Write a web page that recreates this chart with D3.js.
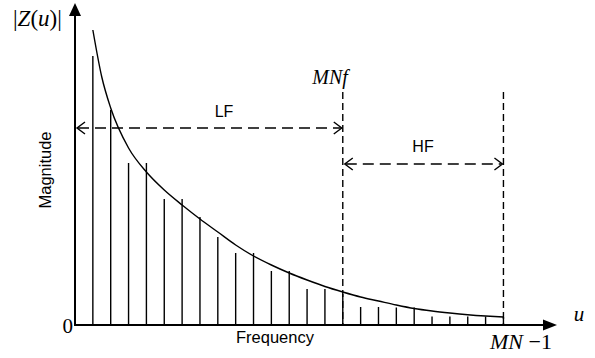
<!DOCTYPE html>
<html>
<head>
<meta charset="utf-8">
<script src="https://cdn.jsdelivr.net/npm/d3@7"></script>
<style>
  body { margin: 0; background: #fff; }
  .sans { font-family: "Liberation Sans", Arial, sans-serif; }
  .serif { font-family: "Liberation Serif", "Times New Roman", serif; }
</style>
</head>
<body>
<svg id="chart"></svg>
<script>
// frequency index of each sample bar
var barU = d3.range(1, 25)
// bar magnitudes
var barValues = [269, 215, 162, 162, 126, 126, 108, 88, 72, 72, 54, 54,
  36, 36, 31, 18, 18, 17.5, 17.5, 8.5, 8.5, 8.5, 8.5, 8]
// envelope curve
var curveU = [1, 1.5, 2, 3, 4, 5, 6, 7, 8, 9, 10, 11, 12, 13, 14, 15, 16, 17, 18, 19, 20, 21, 22, 23, 24]
var curveValues = [295, 248, 217, 177, 153, 135, 120, 106, 93, 80, 69, 60, 52, 45, 38.5, 33, 28, 24, 20, 16.5, 14, 12, 10.3, 9, 8]
var cutU = 15
var lastU = 24
var xMaxU = 27

var dimensions = {
  width: 595,
  height: 358,
  margin: { top: 25, bottom: 33, left: 75, right: 38 }
}

var svg = d3.select("#chart")
  .attr("width", dimensions.width)
  .attr("height", dimensions.height)

var xScale = d3.scaleLinear()
  .domain([0, xMaxU])
  .range([dimensions.margin.left, dimensions.width - dimensions.margin.right])

var yScale = d3.scaleLinear()
  .domain([0, 300])
  .range([dimensions.height - dimensions.margin.bottom, dimensions.margin.top])

var y0 = yScale(0)
var x0 = xScale(0)

// bars
svg.append("g")
  .selectAll("line")
  .data(barU)
  .enter().append("line")
  .attr("x1", d => xScale(d))
  .attr("x2", d => xScale(d))
  .attr("y1", y0)
  .attr("y2", (d, i) => yScale(barValues[i]))
  .attr("stroke", "#000")
  .attr("stroke-width", 1.4)

// envelope
var line = d3.line()
  .x(d => xScale(d[0]))
  .y(d => yScale(d[1]))
  .curve(d3.curveMonotoneX)

svg.append("path")
  .datum(curveU.map((u, i) => [u, curveValues[i]]))
  .attr("d", line)
  .attr("fill", "none")
  .attr("stroke", "#000")
  .attr("stroke-width", 1.4)

// axes
svg.append("line")
  .attr("x1", x0).attr("x2", x0)
  .attr("y1", y0 + 1).attr("y2", 12)
  .attr("stroke", "#000").attr("stroke-width", 2)
svg.append("path")
  .attr("d", `M${x0},3 L${x0 - 6},16 L${x0 + 6},16 Z`)
  .attr("fill", "#000")

svg.append("line")
  .attr("x1", x0 - 1).attr("x2", xScale(xMaxU) - 10)
  .attr("y1", y0).attr("y2", y0)
  .attr("stroke", "#000").attr("stroke-width", 2)
svg.append("path")
  .attr("d", `M${xScale(xMaxU)},${y0} L${xScale(xMaxU) - 14},${y0 - 5.5} L${xScale(xMaxU) - 14},${y0 + 5.5} Z`)
  .attr("fill", "#000")

// dashed cut-off lines
var dashTop = 92
svg.append("g")
  .selectAll("line")
  .data([cutU, lastU])
  .enter().append("line")
  .attr("x1", d => xScale(d))
  .attr("x2", d => xScale(d))
  .attr("y1", dashTop)
  .attr("y2", y0)
  .attr("stroke", "#000")
  .attr("stroke-width", 1.4)
  .attr("stroke-dasharray", "7,4")

function chevron(x, y, dir) {
  return `M${x - dir * 8},${y - 6} L${x},${y} L${x - dir * 8},${y + 6}`
}

function dashedArrow(xa, xb, y) {
  svg.append("line")
    .attr("x1", xa + 1).attr("x2", xb - 1)
    .attr("y1", y).attr("y2", y)
    .attr("stroke", "#000")
    .attr("stroke-width", 1.4)
    .attr("stroke-dasharray", "11,6")
  svg.append("path")
    .attr("d", chevron(xa, y, -1))
    .attr("fill", "none").attr("stroke", "#000").attr("stroke-width", 1.4)
  svg.append("path")
    .attr("d", chevron(xb, y, 1))
    .attr("fill", "none").attr("stroke", "#000").attr("stroke-width", 1.4)
}

dashedArrow(x0 + 2, xScale(cutU) - 1, 128)
dashedArrow(xScale(cutU) + 2, xScale(lastU) - 1, 164)

// labels
svg.append("text").attr("class", "sans")
  .attr("x", 224).attr("y", 117)
  .attr("text-anchor", "middle").attr("font-size", 16)
  .text("LF")
svg.append("text").attr("class", "sans")
  .attr("x", 423).attr("y", 152)
  .attr("text-anchor", "middle").attr("font-size", 16)
  .text("HF")
svg.append("text").attr("class", "sans")
  .attr("x", 275).attr("y", 343)
  .attr("text-anchor", "middle").attr("font-size", 16.5)
  .text("Frequency")
svg.append("text").attr("class", "sans")
  .attr("transform", "translate(51,170) rotate(-90)")
  .attr("text-anchor", "middle").attr("font-size", 16.5)
  .text("Magnitude")

svg.append("text").attr("class", "serif")
  .attr("x", 73).attr("y", 333)
  .attr("text-anchor", "end").attr("font-size", 21)
  .text("0")

var zLabel = svg.append("text").attr("class", "serif")
  .attr("x", 13).attr("y", 26)
  .attr("font-size", 23)
zLabel.append("tspan").text("|")
zLabel.append("tspan").attr("font-style", "italic").text("Z")
zLabel.append("tspan").text("(")
zLabel.append("tspan").attr("font-style", "italic").text("u")
zLabel.append("tspan").text(")|")

svg.append("text").attr("class", "serif")
  .attr("x", 330).attr("y", 84)
  .attr("text-anchor", "middle").attr("font-size", 20)
  .attr("font-style", "italic")
  .text("MNf")

svg.append("text").attr("class", "serif")
  .attr("x", 579).attr("y", 321)
  .attr("text-anchor", "middle").attr("font-size", 21)
  .attr("font-style", "italic")
  .text("u")

var mnLabel = svg.append("text").attr("class", "serif")
  .attr("x", 521).attr("y", 349)
  .attr("text-anchor", "middle").attr("font-size", 22)
mnLabel.append("tspan").attr("font-style", "italic").text("MN")
mnLabel.append("tspan").text(" \u22121")
</script>
</body>
</html>
